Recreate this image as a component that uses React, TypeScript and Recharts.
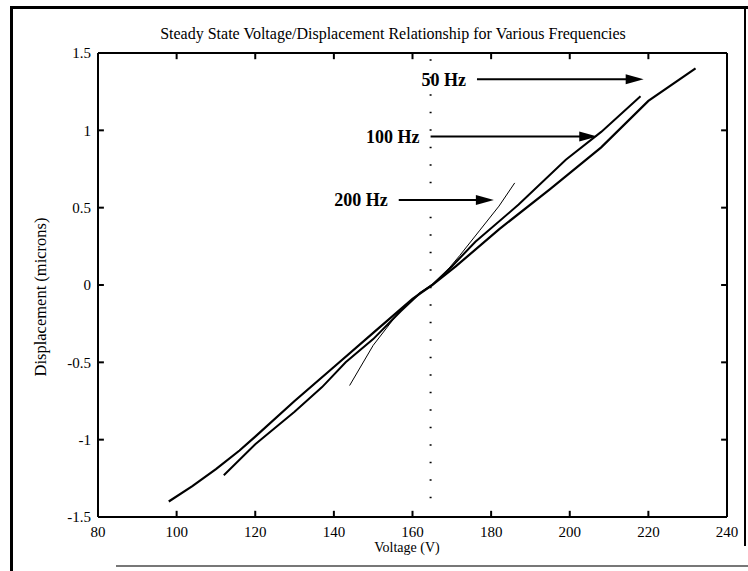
import React from 'react';
import { LineChart, Line, XAxis, YAxis, ReferenceLine } from 'recharts';

// axis ticks
const xTicks = [80, 100, 120, 140, 160, 180, 200, 220, 240];
const yTicks = [-1.5, -1, -0.5, 0, 0.5, 1, 1.5];

// 50 Hz sweep (voltage V, displacement microns)
const volts50 = [98, 104, 110, 116, 120, 130, 140, 150, 160, 165, 171, 182, 195, 208, 220, 232];
const disp50 = [-1.4, -1.3, -1.19, -1.07, -0.98, -0.75, -0.53, -0.31, -0.09, 0, 0.12, 0.36, 0.62, 0.89, 1.19, 1.4];

// 100 Hz sweep
const volts100 = [112, 120, 130, 137, 143, 150, 157, 162, 165, 170, 176, 187, 199, 208, 218];
const disp100 = [-1.23, -1.03, -0.82, -0.66, -0.5, -0.35, -0.17, -0.05, 0, 0.12, 0.28, 0.52, 0.81, 0.99, 1.22];

// 200 Hz sweep
const volts200 = [144, 150, 157, 162, 165, 168, 172, 177, 182, 186];
const disp200 = [-0.65, -0.39, -0.16, -0.05, 0, 0.07, 0.19, 0.35, 0.51, 0.66];

// annotation arrows
const arrowLabels = ['50 Hz', '100 Hz', '200 Hz'];
const arrowFrom = [176.4, 164.6, 156.5];
const arrowTo = [218.8, 207, 180.7];
const arrowLevel = [1.33, 0.96, 0.55];

// dotted centre line
const centreVolt = 164.6;
const centreTop = 1.46;
const centreBottom = -1.42;

const toData = (v: number[], d: number[]) => v.map((x, i) => ({ v: x, d: d[i] }));
const data50 = toData(volts50, disp50);
const data100 = toData(volts100, disp100);
const data200 = toData(volts200, disp200);

const font = '"Liberation Serif", "Times New Roman", serif';

// inward tick marks (matlab style), in data units
const xTickLen = 1.5;
const yTickLen = 0.04;
const innerX = xTicks.slice(1, -1);
const innerY = yTicks.slice(1, -1);

const arrowShape = (label: string) => (props: any) => {
  const { x1, y1, x2, y2 } = props;
  return (
    <g>
      <line x1={x1} y1={y1} x2={x2 - 12} y2={y2} stroke="#000" strokeWidth={2} />
      <polygon points={`${x2},${y2} ${x2 - 18},${y2 - 5} ${x2 - 18},${y2 + 5}`} fill="#000" />
      <text x={x1 - 11} y={y1} dy="0.35em" textAnchor="end" fontWeight="bold" fontSize={18} fontFamily={font} fill="#000">
        {label}
      </text>
    </g>
  );
};

const tickStyle = { fill: '#000', fontSize: 15, fontFamily: font };
const axisStyle = { stroke: '#000', strokeWidth: 2 };

const App: React.FC = () => {
  return (
    <div style={{ position: 'absolute', left: 0, top: 0, width: 748, height: 571, background: '#fff', fontFamily: font, color: '#000' }}>
      {/* scanned page frame */}
      <div style={{ position: 'absolute', left: 10, top: 6, width: 738, height: 3, background: '#000' }} />
      <div style={{ position: 'absolute', left: 10, top: 6, width: 3, height: 565, background: '#000' }} />
      <div style={{ position: 'absolute', left: 744, top: 6, width: 2, height: 540, background: '#000' }} />
      <div style={{ position: 'absolute', left: 116, top: 565, width: 632, height: 2, background: '#777' }} />

      <div style={{ position: 'absolute', left: 0, top: 25, width: 786, textAlign: 'center', fontSize: 16, lineHeight: '18px' }}>
        Steady State Voltage/Displacement Relationship for Various Frequencies
      </div>
      <div style={{ position: 'absolute', left: 0, top: 540, width: 814, textAlign: 'center', fontSize: 14, lineHeight: '16px' }}>
        Voltage (V)
      </div>
      <div
        style={{
          position: 'absolute',
          left: 41,
          top: 297,
          transform: 'translate(-50%, -50%) rotate(-90deg)',
          whiteSpace: 'nowrap',
          fontSize: 16.5,
          lineHeight: '18px',
        }}
      >
        Displacement (microns)
      </div>

      <div style={{ position: 'absolute', left: 0, top: 0 }}>
        <LineChart width={748} height={571} margin={{ top: 52, right: 20, bottom: 0, left: 0 }}>
          <XAxis
            xAxisId={0}
            dataKey="v"
            type="number"
            domain={[80, 240]}
            ticks={xTicks}
            height={54}
            tickSize={0}
            tickMargin={9}
            tick={tickStyle}
            axisLine={axisStyle}
            tickLine={false}
            allowDataOverflow
          />
          <XAxis
            xAxisId="top"
            orientation="top"
            type="number"
            domain={[80, 240]}
            ticks={xTicks}
            height={1}
            tick={false}
            axisLine={axisStyle}
            tickLine={false}
            allowDataOverflow
          />
          <YAxis
            yAxisId={0}
            type="number"
            domain={[-1.5, 1.5]}
            ticks={yTicks}
            width={98}
            tickSize={0}
            tickMargin={7}
            tick={tickStyle}
            axisLine={axisStyle}
            tickLine={false}
            allowDataOverflow
          />
          <YAxis
            yAxisId="right"
            orientation="right"
            type="number"
            domain={[-1.5, 1.5]}
            ticks={yTicks}
            width={1}
            tick={false}
            axisLine={axisStyle}
            tickLine={false}
            allowDataOverflow
          />

          {innerX.map((t) => (
            <ReferenceLine key={`b${t}`} segment={[{ x: t, y: -1.5 }, { x: t, y: -1.5 + yTickLen }]} stroke="#000" strokeWidth={2} ifOverflow="visible" />
          ))}
          {innerX.map((t) => (
            <ReferenceLine key={`t${t}`} segment={[{ x: t, y: 1.5 }, { x: t, y: 1.5 - yTickLen }]} stroke="#000" strokeWidth={2} ifOverflow="visible" />
          ))}
          {innerY.map((t) => (
            <ReferenceLine key={`l${t}`} segment={[{ x: 80, y: t }, { x: 80 + xTickLen, y: t }]} stroke="#000" strokeWidth={2} ifOverflow="visible" />
          ))}
          {innerY.map((t) => (
            <ReferenceLine key={`r${t}`} segment={[{ x: 240, y: t }, { x: 240 - xTickLen, y: t }]} stroke="#000" strokeWidth={2} ifOverflow="visible" />
          ))}

          <ReferenceLine
            segment={[{ x: centreVolt, y: centreTop }, { x: centreVolt, y: centreBottom }]}
            stroke="#000"
            strokeWidth={2}
            strokeDasharray="1.5 16"
          />

          <Line data={data50} dataKey="d" type="linear" stroke="#000" strokeWidth={2.2} dot={false} isAnimationActive={false} />
          <Line data={data100} dataKey="d" type="linear" stroke="#000" strokeWidth={2} dot={false} isAnimationActive={false} />
          <Line data={data200} dataKey="d" type="linear" stroke="#000" strokeWidth={1} dot={false} isAnimationActive={false} />

          {arrowLabels.map((label, i) => (
            <ReferenceLine
              key={label}
              segment={[{ x: arrowFrom[i], y: arrowLevel[i] }, { x: arrowTo[i], y: arrowLevel[i] }]}
              shape={arrowShape(label)}
            />
          ))}
        </LineChart>
      </div>
    </div>
  );
};

export default App;
